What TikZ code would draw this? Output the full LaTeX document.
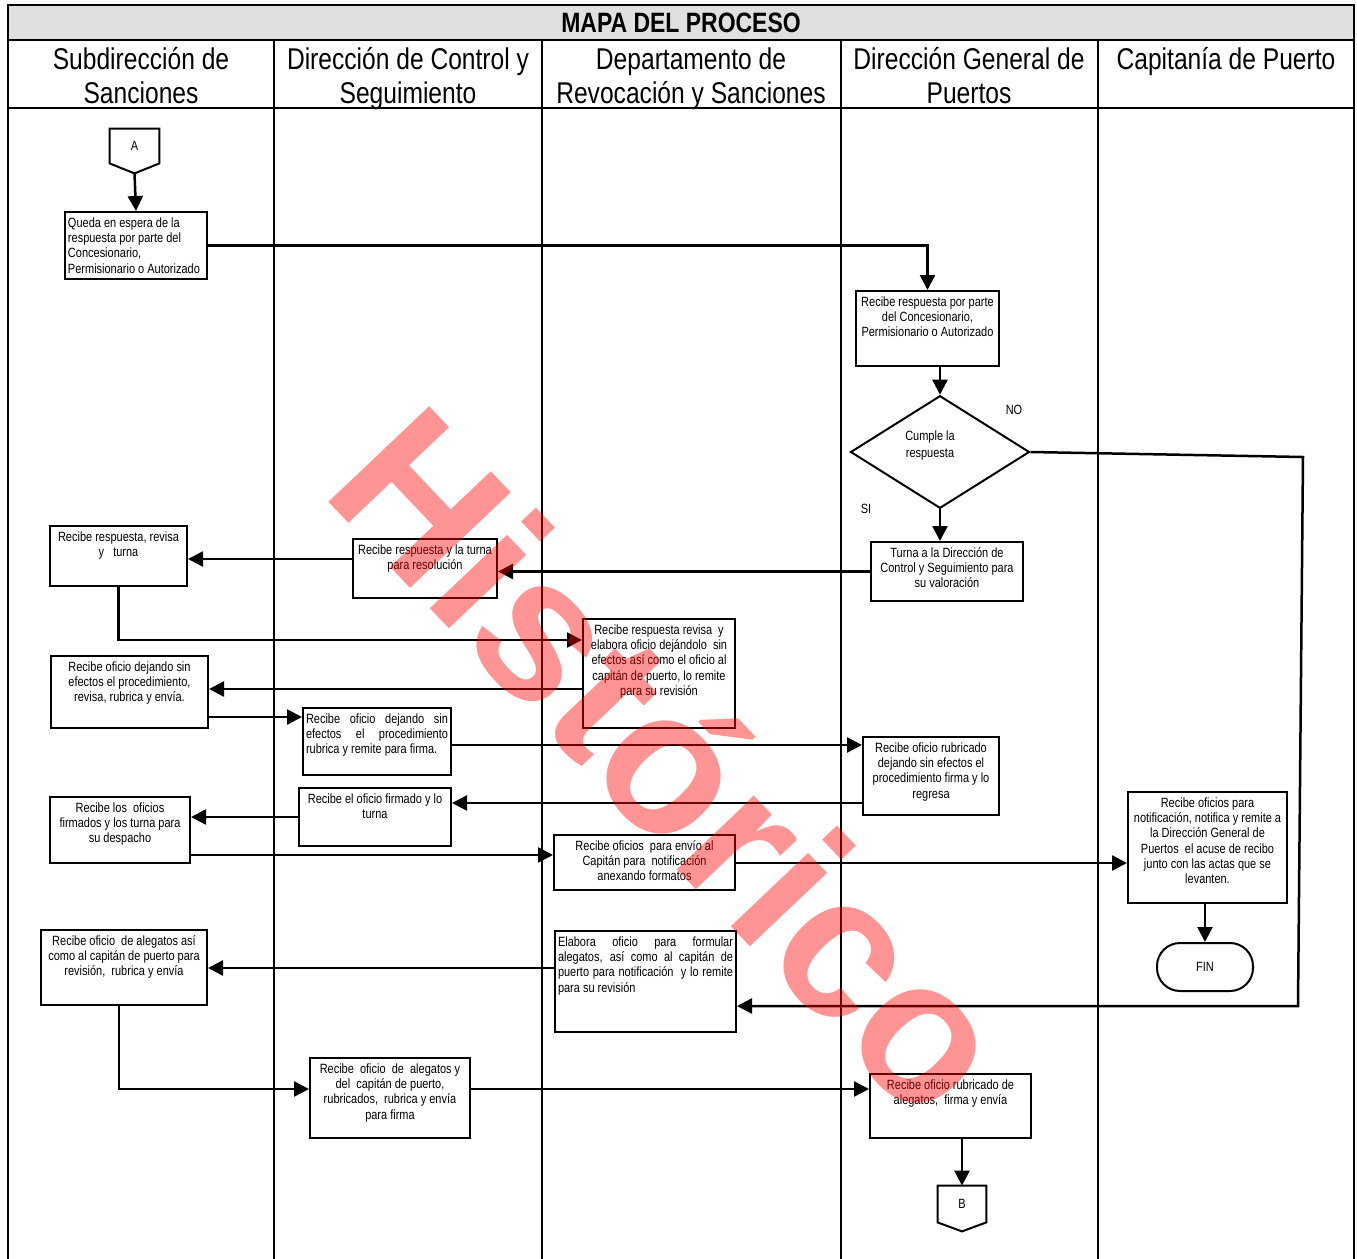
\documentclass[tikz,border=0pt]{standalone}
\usepackage{fontspec}
\setmainfont[FakeStretch=0.82]{Liberation Sans}
\newfontfamily\wmfont{Liberation Sans}
\usetikzlibrary{arrows.meta,shapes.geometric,calc}
\tikzset{
  frame/.style={line width=1.1pt},
  box/.style={draw, line width=1pt, fill=white, inner xsep=1.5pt, inner ysep=0pt, anchor=north west, font=\fontsize{6.7}{7.6}\selectfont},
  arr/.style={line width=1.25pt, -{Triangle[length=7.5pt,width=7.5pt]}},
  hdr/.style={anchor=north, align=center, inner sep=0pt, font=\fontsize{15}{17}\selectfont},
  small/.style={inner sep=0pt, font=\fontsize{6.7}{7.6}\selectfont},
}
\newcommand{\flowbox}[7]{%
  \node[box] (#1) at (#2,#3) {\parbox[c][\dimexpr(#5pt-#3pt)/2\relax][t]{\dimexpr(#4pt-#2pt)/2-3pt\relax}{\vspace*{2.4pt}#6\strut #7\par}};}
\begin{document}
\begin{tikzpicture}[x=0.5pt,y=-0.5pt]
\useasboundingbox (0,0) rectangle (1357,1259);
\fill[white] (0,0) rectangle (1357,1259);
% frame and lanes
\fill[black!12] (8,5) rectangle (1354,40);
\draw[frame] (8,1262) -- (8,5) -- (1354,5) -- (1354,1262);
\draw[frame] (8,40) -- (1354,40);
\draw[frame] (8,108) -- (1354,108);
\foreach \cx in {274,542,841,1098} \draw[frame] (\cx,40) -- (\cx,1262);
\node[inner sep=0pt, font=\bfseries\fontsize{14}{16}\selectfont] (title) at (681,23) {MAPA DEL PROCESO};
\node[hdr] (h1) at (141,45) {\strut Subdirección de\\Sanciones};
\node[hdr] (h2) at (408,45) {\strut Dirección de Control y\\Seguimiento};
\node[hdr] (h3) at (691,45) {\strut Departamento de\\Revocación y Sanciones};
\node[hdr] (h4) at (969,45) {\strut Dirección General de\\Puertos};
\node[hdr] (h5) at (1226,45) {\strut Capitanía de Puerto};
% connectors A and B
\node[small, minimum width=24.5pt, minimum height=17pt] (A) at (134.5,146) {A};
\coordinate (Atip) at ($(A.south)+(0,10)$);
\draw[line width=1pt] (A.south west) -- (A.north west) -- (A.north east) -- (A.south east) -- (Atip) -- cycle;
\node[small, minimum width=24pt, minimum height=18pt] (B) at (962,1204) {B};
\coordinate (Btip) at ($(B.south)+(0,9)$);
\draw[line width=1pt] (B.south west) -- (B.north west) -- (B.north east) -- (B.south east) -- (Btip) -- cycle;
% boxes
\flowbox{b1}{64}{211}{206}{278}{\raggedright}{Queda en espera de la\\respuesta por parte del\\Concesionario,\\Permisionario o Autorizado}
\flowbox{b2}{855}{290}{998}{365}{\centering}{Recibe respuesta por parte\\del Concesionario,\\Permisionario o Autorizado}
\node[draw, diamond, line width=1pt, fill=white, minimum width=89.5pt, minimum height=56pt, inner sep=0pt, font=\fontsize{6.7}{7.6}\selectfont] (d) at (940,452) {\raisebox{8pt}{\shortstack{Cumple la\\respuesta}}\hspace*{10pt}};
\node[small] (no) at (1014,410) {NO};
\node[small] (si) at (866,509) {SI};
\flowbox{b3}{870}{541}{1022}{600}{\centering}{Turna a la Dirección de\\Control y Seguimiento para\\su valoración}
\flowbox{b4}{352}{538}{496}{597}{\centering}{Recibe respuesta y la turna\\para resolución}
\flowbox{b5}{49}{525}{186}{585}{\centering}{Recibe respuesta, revisa\\y~~~turna}
\flowbox{b6}{582}{618}{734}{727}{\centering}{Recibe respuesta revisa~ y\\elabora oficio dejándolo~ sin\\efectos así como el oficio al\\capitán de puerto, lo remite\\para su revisión}
\flowbox{b7}{50}{655}{207}{727}{\centering}{Recibe oficio dejando sin\\efectos el procedimiento,\\revisa, rubrica y envía.}
\flowbox{b8}{302}{707}{450}{774}{\raggedright}{\makebox[\linewidth][s]{Recibe oficio dejando sin}\\\makebox[\linewidth][s]{efectos el procedimiento}\\rubrica y remite para firma.}
\flowbox{b9}{862}{736}{998}{814}{\centering}{Recibe oficio rubricado\\dejando sin efectos el\\procedimiento firma y lo\\regresa}
\flowbox{b10}{298}{787}{450}{845}{\centering}{Recibe el oficio firmado y lo\\turna}
\flowbox{b11}{49}{796}{189}{862}{\centering}{Recibe los~ oficios\\firmados y los turna para\\su despacho}
\flowbox{b12}{553}{834}{734}{889}{\centering}{Recibe oficios~ para envío al\\Capitán para~ notificación\\anexando formatos}
\flowbox{b13}{1127}{791}{1286}{902}{\centering}{Recibe oficios para\\notificación, notifica y remite a\\la Dirección General de\\Puertos~ el acuse de recibo\\junto con las actas que se\\levanten.}
\node[draw, line width=1pt, fill=white, rounded corners=11.5pt, minimum width=48pt, minimum height=24pt, inner sep=0pt, font=\fontsize{6.7}{7.6}\selectfont] (fin) at (1205,967) {FIN};
\flowbox{b14}{554}{930}{735}{1031}{\raggedright}{\makebox[\linewidth][s]{Elabora oficio para formular}\\\makebox[\linewidth][s]{alegatos, así como al capitán de}\\\makebox[\linewidth][s]{puerto para notificación~ y lo remite}\\para su revisión}
\flowbox{b15}{40}{929}{206}{1004}{\centering}{Recibe oficio~ de alegatos así\\como al capitán de puerto para\\revisión,~ rubrica y envía}
\flowbox{b16}{309}{1057}{469}{1137}{\centering}{Recibe~ oficio~ de~ alegatos y\\del~ capitán de puerto,\\rubricados,~ rubrica y envía\\para firma}
\flowbox{b17}{869}{1073}{1030}{1137}{\centering}{Recibe oficio rubricado de\\alegatos,~ firma y envía}
% connectors
\draw[arr] (Atip) -- (b1.north);
\draw[arr] (b1.east) -| (b2.north);
\draw[arr] (d.north |- b2.south) -- (d.north);
\draw[arr] (d.south) -- (d.south |- b3.north);
\coordinate (n1) at (1303,457);
\coordinate (n2) at (1298,1006);
\draw[arr] (d.east) -- (n1) -- (n2) -- (b14.east |- n2);
\draw[arr] (b3.west) -- (b3.west -| b4.east);
\draw[arr] (b4.west |- 0,559) -- (b5.east |- 0,559);
\draw[arr] (b5.south) |- (b6.west |- 0,640);
\draw[arr] (b6.west |- 0,689) -- (b7.east |- 0,689);
\draw[arr] (b7.east |- 0,717) -- (b8.west |- 0,717);
\draw[arr] (b8.east |- 0,745) -- (b9.west |- 0,745);
\draw[arr] (b9.west |- 0,803) -- (b10.east |- 0,803);
\draw[arr] (b10.west) -- (b10.west -| b11.east);
\draw[arr] (b11.east |- 0,855) -- (b12.west |- 0,855);
\draw[arr] (b12.east |- 0,863) -- (b13.west |- 0,863);
\draw[arr] (b13.south -| fin.north) -- (fin.north);
\draw[arr] (b14.west |- 0,968) -- (b15.east |- 0,968);
\draw[arr] ([xshift=-2.5pt]b15.south) |- (b16.west |- 0,1089);
\draw[arr] (b16.east |- 0,1089) -- (b17.west |- 0,1089);
\draw[arr] (B.north |- b17.south) -- (B.north);
% watermark
\node[font=\wmfont\bfseries\fontsize{101}{101}\selectfont, text=red, text opacity=0.42, rotate=-46.5, inner sep=0pt] (wm) at (674,760) {Histórico};
\end{tikzpicture}
\end{document}
